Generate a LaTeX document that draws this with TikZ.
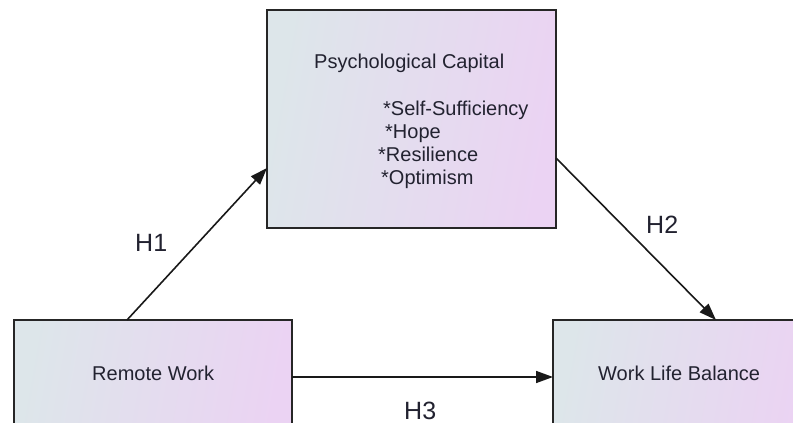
\documentclass[tikz,border=0pt]{standalone}
\usepackage{fontspec}
\setmainfont{Liberation Sans}
\usetikzlibrary{arrows.meta}
\definecolor{boxleft}{HTML}{DDE6EA}
\definecolor{boxright}{HTML}{EBD3F3}
\definecolor{txt}{HTML}{222230}
\tikzset{
  box/.style={draw=black!85, line width=1.6pt, left color=boxleft, right color=boxright, shading angle=80, inner sep=0pt, outer sep=0pt},
  conn/.style={line width=1.6pt, black!90, -{Triangle[length=17pt,width=12pt]}},
  lbl/.style={text=txt, font=\fontsize{20}{24}\selectfont, inner sep=0pt, anchor=base west},
  hlbl/.style={text=txt, font=\fontsize{25}{30}\selectfont, inner sep=0pt, anchor=base west},
}
\begin{document}
\begin{tikzpicture}[x=1pt,y=-1pt]
\clip (0,0) rectangle (793,423);
\fill[white] (0,0) rectangle (793,423);
\node[box, minimum width=289pt, minimum height=218pt] (pc) at (411.5,119) {};
\node[box, minimum width=278pt, minimum height=114pt] (rw) at (153,377) {};
\node[box, minimum width=260pt, minimum height=114pt] (wlb) at (683,377) {};
\node[lbl] (pct) at (314,68) {Psychological Capital};
\node[lbl] (l1) at (383,115) {*Self-Sufficiency};
\node[lbl] (l2) at (385,138) {*Hope};
\node[lbl] (l3) at (378,161) {*Resilience};
\node[lbl] (l4) at (381,184) {*Optimism};
\node[lbl] (rwt) at (92,380) {Remote Work};
\node[lbl] (wlbt) at (598,380) {Work Life Balance};
\draw[conn] ([xshift=113pt]rw.north west) -- ([yshift=-49pt]pc.west);
\draw[conn] ([yshift=-39pt]pc.east) -- ([xshift=163pt]wlb.north west);
\draw[conn] (rw.east) -- (wlb.west);
\node[hlbl] (h1) at (135,251) {H1};
\node[hlbl] (h2) at (646,233) {H2};
\node[hlbl] (h3) at (404,419) {H3};
\end{tikzpicture}
\end{document}
